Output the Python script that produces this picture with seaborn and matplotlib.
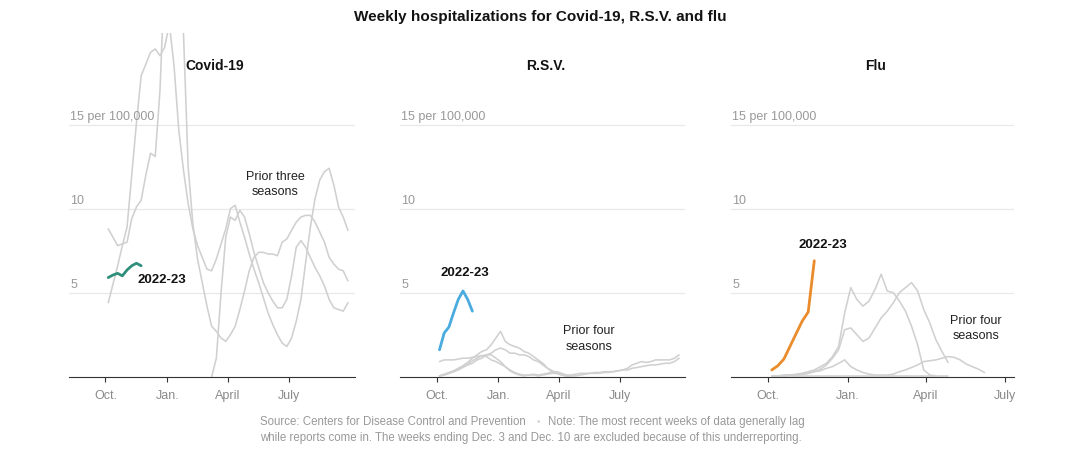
import numpy as np
import pandas as pd
import matplotlib
matplotlib.use("Agg")
import matplotlib.pyplot as plt
import matplotlib.transforms as mtransforms
import seaborn as sns

nan = np.nan

# ---------------- data (weekly rates per 100,000; week index from early Oct.) ----------------
week_offset = 0.6
month_ticks = [0, 13.14, 26.0, 39.0]
month_labels = ["Oct.", "Jan.", "April", "July"]

covid_2019_20 = [nan] * 22 + [
    0.0, 1.1, 5.0, 8.3, 9.5, 9.3, 9.9, 9.5, 8.5, 7.4,
    6.5, 5.6, 5.0, 4.5, 4.1, 4.1, 4.6, 6.0, 7.7, 8.1,
    7.7, 7.1, 6.5, 6.0, 5.4, 4.6, 4.1, 4.0, 3.9, 4.4]
covid_2020_21 = [
    4.4, 5.5, 6.6, 7.8, 8.9, 12.0, 15.1, 17.9, 18.6, 19.3,
    19.5, 19.1, 19.6, 21.0, 18.5, 14.7, 12.3, 10.3, 8.8, 7.8,
    7.1, 6.4, 6.3, 7.0, 7.9, 8.8, 10.0, 10.2, 9.2, 8.3,
    7.3, 6.4, 5.6, 4.7, 3.8, 3.1, 2.5, 2.0, 1.8, 2.3,
    3.3, 4.6, 6.8, 8.9, 10.6, 11.7, 12.2, 12.4, 11.4, 10.1,
    9.5, 8.7]
covid_2021_22 = [
    8.8, 8.3, 7.8, 7.9, 8.0, 9.4, 10.1, 10.5, 12.0, 13.3,
    13.1, 17.0, 24.0, 34.0, 38.0, 30.0, 20.5, 12.5, 9.1, 7.0,
    5.6, 4.2, 3.0, 2.7, 2.3, 2.1, 2.5, 3.0, 4.0, 5.1,
    6.3, 7.1, 7.4, 7.4, 7.3, 7.3, 7.2, 8.0, 8.2, 8.7,
    9.2, 9.5, 9.6, 9.6, 9.2, 8.6, 8.0, 7.1, 6.7, 6.4,
    6.3, 5.7]
covid_2022_23 = [5.9, 6.05, 6.15, 6.0, 6.35, 6.6, 6.75, 6.6]

rsv_a = [
    0.9, 1.0, 1.0, 1.0, 1.05, 1.1, 1.1, 1.15, 1.2, 1.25,
    1.2, 1.0, 0.9, 0.75, 0.6, 0.4, 0.25, 0.15, 0.1, 0.1,
    0.15, 0.1, 0.15, 0.2, 0.3, 0.3, 0.2, 0.1, 0.05, 0.05,
    0.1, 0.15, 0.2, 0.2, 0.2, 0.25, 0.25, 0.3, 0.35, 0.4,
    0.5, 0.7, 0.8, 0.9, 0.85, 0.9, 1.0, 1.0, 1.0, 1.0,
    1.1, 1.3]
rsv_b = [
    0.05, 0.15, 0.25, 0.35, 0.5, 0.65, 0.85, 1.1, 1.3, 1.5,
    1.6, 1.9, 2.3, 2.7, 2.1, 1.9, 1.8, 1.7, 1.5, 1.4,
    1.2, 1.0, 0.8, 0.5, 0.3, 0.2, 0.1, 0.05, 0.05]
rsv_c = [
    0.05, 0.1, 0.2, 0.3, 0.4, 0.55, 0.7, 0.8, 1.0, 1.1,
    1.3, 1.4, 1.6, 1.7, 1.6, 1.4, 1.4, 1.3, 1.3, 1.2,
    1.0, 0.9, 0.7, 0.5, 0.35, 0.2, 0.1, 0.05, 0.05]
rsv_d = [
    0.05, 0.1, 0.2, 0.3, 0.45, 0.6, 0.75, 0.95, 1.1, 1.25,
    1.3, 1.3, 1.1, 0.9, 0.6, 0.35, 0.2, 0.1, 0.05, 0.1,
    0.1, 0.05, 0.1, 0.15, 0.2, 0.2, 0.15, 0.1, 0.1, 0.15,
    0.2, 0.2, 0.2, 0.25, 0.25, 0.3, 0.3, 0.3, 0.35, 0.4,
    0.4, 0.5, 0.55, 0.6, 0.65, 0.7, 0.7, 0.75, 0.8, 0.8,
    0.9, 1.1]
rsv_2022_23 = [1.6, 2.6, 2.95, 3.8, 4.6, 5.1, 4.6, 3.9]

flu_a = [
    0.05, 0.05, 0.1, 0.1, 0.15, 0.2, 0.3, 0.4, 0.6, 0.8,
    1.2, 1.8, 3.8, 5.3, 4.6, 4.2, 4.5, 5.2, 6.1, 5.1,
    5.0, 4.5, 3.9, 3.0, 1.9, 0.4, 0.1, 0.05]
flu_b = [
    0.05, 0.05, 0.05, 0.1, 0.1, 0.15, 0.2, 0.3, 0.45, 0.7,
    1.1, 1.6, 2.8, 2.9, 2.5, 2.1, 2.3, 2.9, 3.5, 3.9,
    4.4, 5.0, 5.3, 5.6, 5.1, 4.0, 3.2, 2.2, 1.5, 0.85]
flu_c = [
    0.05, 0.05, 0.05, 0.1, 0.1, 0.15, 0.2, 0.3, 0.35, 0.5,
    0.6, 0.8, 1.0, 0.6, 0.4, 0.25, 0.15, 0.1, 0.1, 0.1,
    0.15, 0.3, 0.4, 0.55, 0.7, 0.9, 0.95, 1.0, 1.1, 1.2,
    1.15, 1.0, 0.75, 0.6, 0.45, 0.25]
flu_d = [
    0.03, 0.03, 0.03, 0.03, 0.03, 0.03, 0.03, 0.03, 0.03, 0.03,
    0.03, 0.03, 0.03, 0.03, 0.03, 0.03, 0.03, 0.03, 0.03, 0.03,
    0.03, 0.03, 0.03, 0.03, 0.03, 0.03, 0.03, 0.03, 0.03, 0.03]
flu_2022_23 = [0.4, 0.65, 1.05, 1.8, 2.55, 3.3, 3.85, 6.9]

GRAY = "#d0d0d0"
COVID_C = "#2f8f7a"
RSV_C = "#4aabdf"
FLU_C = "#ea8b2c"


def long_df(series):
    rows = []
    for name, vals in series.items():
        for i, v in enumerate(vals):
            rows.append((i + week_offset, v, name))
    return pd.DataFrame(rows, columns=["week", "rate", "season"]).dropna()


sns.set_style("white")
plt.rcParams["font.family"] = ["Liberation Sans", "DejaVu Sans"]

fig = plt.figure(figsize=(10.8, 4.53), dpi=100)
bottom = 1 - 376.7 / 453
height = (376.7 - 33) / 453

panels = [
    dict(title="Covid-19", left=69, width=286, xlim=(-7.75, 53.1),
         prior={"2019-20": covid_2019_20, "2020-21": covid_2020_21, "2021-22": covid_2021_22},
         cur=covid_2022_23, color=COVID_C,
         cur_lab=(6.8, 5.75, "left"), prior_lab=(36.2, 11.44, "Prior three\nseasons")),
    dict(title="R.S.V.", left=400, width=285, xlim=(-7.8, 52.85),
         prior={"a": rsv_a, "b": rsv_b, "c": rsv_c, "d": rsv_d},
         cur=rsv_2022_23, color=RSV_C,
         cur_lab=(6.1, 6.17, "center"), prior_lab=(32.4, 2.24, "Prior four\nseasons")),
    dict(title="Flu", left=731, width=283, xlim=(-6.1, 40.45),
         prior={"a": flu_a, "b": flu_b, "c": flu_c, "d": flu_d},
         cur=flu_2022_23, color=FLU_C,
         cur_lab=(8.96, 7.84, "center"), prior_lab=(34.2, 2.88, "Prior four\nseasons")),
]

for p in panels:
    ax = fig.add_axes([p["left"] / 1080, bottom, p["width"] / 1080, height])
    dfp = long_df(p["prior"])
    sns.lineplot(data=dfp, x="week", y="rate", hue="season",
                 palette={k: GRAY for k in p["prior"]}, estimator=None, sort=False,
                 legend=False, linewidth=1.15, ax=ax, zorder=2)
    dfc = long_df({"2022-23": p["cur"]})
    sns.lineplot(data=dfc, x="week", y="rate", color=p["color"], estimator=None,
                 sort=False, legend=False, linewidth=2.0, ax=ax, zorder=3)
    ax.set_xlim(*p["xlim"])
    ax.set_ylim(0, 20.45)
    ax.set_xlabel("")
    ax.set_ylabel("")
    for s in ("left", "top", "right"):
        ax.spines[s].set_visible(False)
    ax.spines["bottom"].set_color("#333333")
    ax.spines["bottom"].set_linewidth(0.8)
    ax.set_yticks([5, 10, 15])
    ax.yaxis.grid(True, color="#e8e8e8", linewidth=0.9)
    ax.xaxis.grid(False)
    ax.set_axisbelow(True)
    ax.tick_params(axis="y", length=0, labelleft=False)
    ax.set_xticks(month_ticks)
    ax.set_xticklabels(month_labels)
    ax.tick_params(axis="x", length=3.6, width=0.8, color="#333333",
                   labelcolor="#8a8a8a", labelsize=9, pad=6, bottom=True)
    tr = mtransforms.blended_transform_factory(ax.transAxes, ax.transData)
    for val, lab in [(15, "15 per 100,000"), (10, "10"), (5, "5")]:
        ax.text(0.004, val + 0.25, lab, transform=tr, ha="left", va="baseline",
                fontsize=9, color="#999999")
    ax.text(0.51, 18.5, p["title"], transform=tr, ha="center", va="center",
            fontsize=10, fontweight="bold", color="#121212")
    cx, cy, ha = p["cur_lab"]
    ax.text(cx, cy, "2022-23", ha=ha, va="center", fontsize=9.5,
            fontweight="bold", color="#121212")
    px_, py_, txt = p["prior_lab"]
    ax.text(px_, py_, txt, ha="center", va="center", fontsize=9,
            color="#222222", linespacing=1.35)

fig.text(540.5 / 1080, 1 - 17.5 / 453, "Weekly hospitalizations for Covid-19, R.S.V. and flu",
         ha="center", va="center", fontsize=11, fontweight="bold", color="#121212")

foot_fam = ["Liberation Sans", "DejaVu Sans"]
y1 = 1 - 421.7 / 453
y2 = 1 - 438.3 / 453
fig.text(260 / 1080, y1, "Source: Centers for Disease Control and Prevention",
         ha="left", va="center", fontsize=8.3, color="#999999", family=foot_fam)
fig.text(538.3 / 1080, y1, "\u2022", ha="center", va="center",
         fontsize=7, color="#d3d3d3", family=foot_fam)
fig.text(548.3 / 1080, y1,
         "Note: The most recent weeks of data generally lag",
         ha="left", va="center", fontsize=8.3, color="#999999", family=foot_fam)
fig.text(260 / 1080, y2,
         "while reports come in. The weeks ending Dec. 3 and Dec. 10 are excluded because of this underreporting.",
         ha="left", va="center", fontsize=8.3, color="#999999", family=foot_fam)

fig.savefig("out.png", dpi=100)
